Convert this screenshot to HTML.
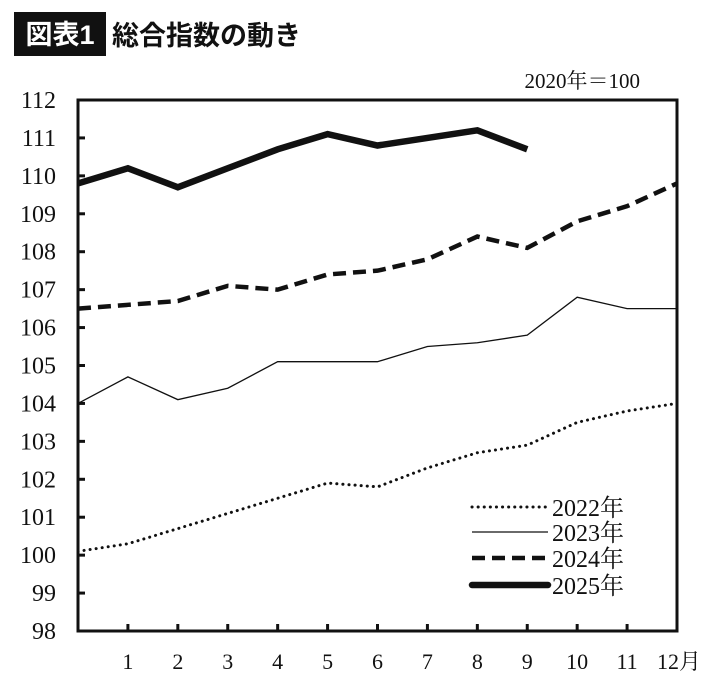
<!DOCTYPE html>
<html><head><meta charset="utf-8"><style>
body{margin:0;background:#fff;width:710px;height:683px;overflow:hidden}
svg{display:block}
.sf{font-family:"Liberation Serif","Noto Serif CJK SC",serif;fill:#111}
</style></head><body>
<svg id="chart" width="710" height="683">
<rect x="14" y="12" width="92" height="44" fill="#111"/>
<text x="60" y="44" text-anchor="middle" font-size="27" font-weight="bold" fill="#fff" font-family="'Liberation Sans','Noto Sans CJK JP',sans-serif">図表1</text>
<text x="112" y="45" font-size="27" font-weight="bold" fill="#111" font-family="'Liberation Sans','Noto Sans CJK JP',sans-serif">総合指数の動き</text>
<text class="sf" x="640" y="88" text-anchor="end" font-size="21" font-family="'Liberation Serif','Noto Serif CJK SC',serif">2020年＝100</text>
<g id="axes"></g>
<g id="series"></g>
<g id="legend"></g>
</svg>
<script>
const months = ["", "1", "2", "3", "4", "5", "6", "7", "8", "9", "10", "11", "12月"];
const yTicks = [98, 99, 100, 101, 102, 103, 104, 105, 106, 107, 108, 109, 110, 111, 112];
const s2022 = [100.1, 100.3, 100.7, 101.1, 101.5, 101.9, 101.8, 102.3, 102.7, 102.9, 103.5, 103.8, 104.0];
const s2023 = [104.0, 104.7, 104.1, 104.4, 105.1, 105.1, 105.1, 105.5, 105.6, 105.8, 106.8, 106.5, 106.5];
const s2024 = [106.5, 106.6, 106.7, 107.1, 107.0, 107.4, 107.5, 107.8, 108.4, 108.1, 108.8, 109.2, 109.8];
const s2025 = [109.8, 110.2, 109.7, 110.2, 110.7, 111.1, 110.8, 111.0, 111.2, 110.7];
const seriesNames = ["2022年", "2023年", "2024年", "2025年"];

const L=78,R=677,T=100,B=631,ymin=98,ymax=112;
const FF="'Liberation Serif','Noto Serif CJK SC',serif";
const x=i=>L+(R-L)*i/12;
const y=v=>B-(B-T)*(v-ymin)/(ymax-ymin);
const NS="http://www.w3.org/2000/svg";
function mk(tag,attrs,parent){const e=document.createElementNS(NS,tag);for(const k in attrs)e.setAttribute(k,attrs[k]);parent.appendChild(e);return e;}
const axes=document.getElementById('axes');
const frame=mk('rect',{x:L,y:T,width:R-L,height:B-T,fill:'none',stroke:'#111','stroke-width':3},axes);


yTicks.forEach(v=>{
  const t=mk('line',{x1:L,x2:L+7,y1:y(v),y2:y(v),stroke:'#111','stroke-width':3},axes);
  
  
  const lb=mk('text',{x:56,y:y(v)+8,'text-anchor':'end','font-size':24,'font-family':FF,fill:'#111'},axes);
  lb.textContent=v;
  
  
});
months.forEach((m,i)=>{
  if(i===0)return;
  const t=mk('line',{x1:x(i),x2:x(i),y1:B,y2:B-7,stroke:'#111','stroke-width':3},axes);
  
  
  const lb=mk('text',{x:i===12?x(i)+2:x(i),y:669,'text-anchor':'middle','font-size':22,'font-family':FF,fill:'#111'},axes);
  lb.textContent=m;
  
  
});
const styles=[
 {w:3,d:'0.1 6',cap:'round'},
 {w:1.3,d:'',cap:'butt'},
 {w:4.5,d:'13 7',cap:'butt'},
 {w:6.5,d:'',cap:'butt'}];
const data=[s2022,s2023,s2024,s2025];
const sg=document.getElementById('series');
data.forEach((arr,k)=>{
  const st=styles[k];
  const p=mk('polyline',{points:arr.map((v,i)=>x(i)+','+y(v)).join(' '),fill:'none',stroke:'#111','stroke-width':st.w,'stroke-dasharray':st.d,'stroke-linecap':st.cap,'stroke-linejoin':'miter'},sg);
  
  
});
const lg=document.getElementById('legend');
const ly=[507,532,558,585];
seriesNames.forEach((n,k)=>{
  const st=styles[k];
  const l=mk('line',{x1:472,x2:548,y1:ly[k],y2:ly[k],stroke:'#111','stroke-width':st.w,'stroke-dasharray':st.d,'stroke-linecap':k===3?'round':st.cap},lg);
  
  
  const t=mk('text',{x:552,y:ly[k]+9,'font-size':24,'font-family':FF,fill:'#111'},lg);
  t.textContent=n;
  
  
});
</script>
</body></html>
